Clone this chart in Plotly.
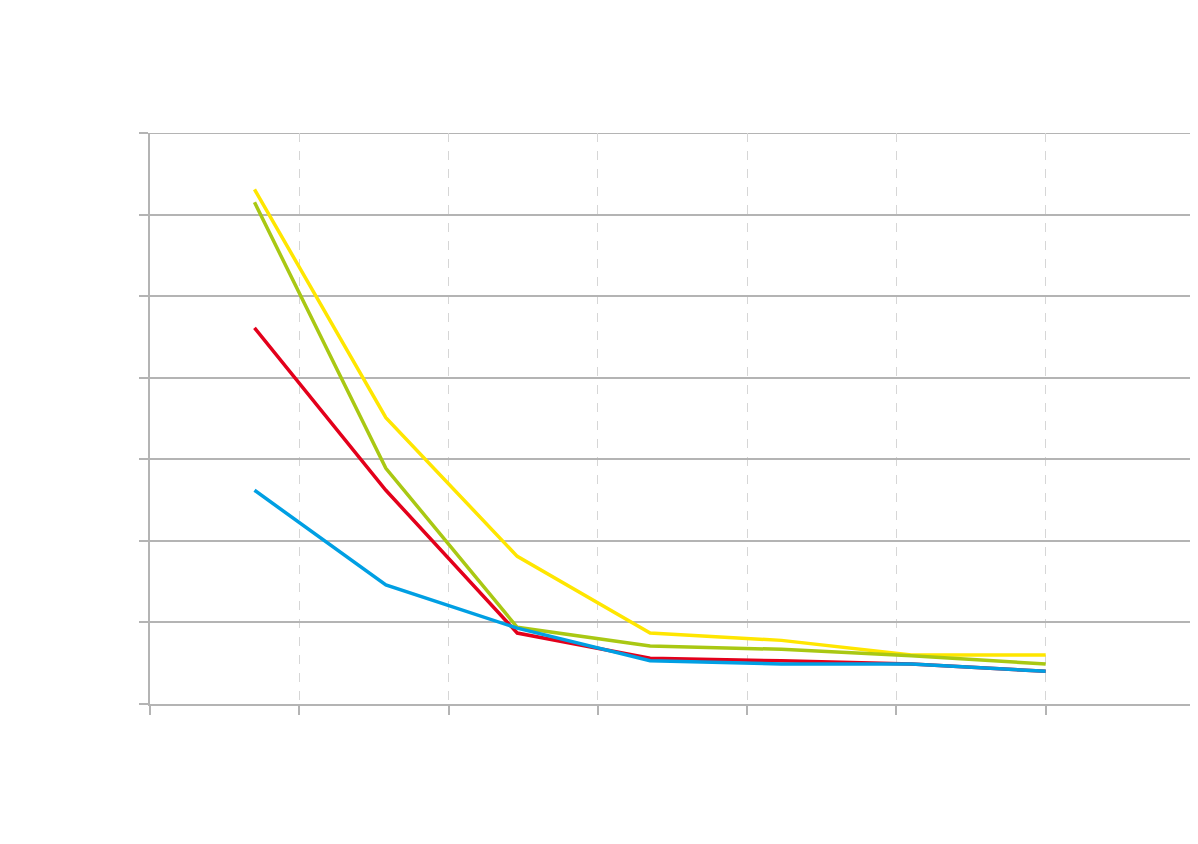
import plotly.graph_objects as go

x_vals = [0.70, 1.58, 2.46, 3.35, 4.23, 5.10, 6.00]
yellow_vals = [6.31, 3.51, 1.81, 0.87, 0.78, 0.60, 0.60]
green_vals = [6.15, 2.89, 0.94, 0.71, 0.67, 0.59, 0.49]
red_vals = [4.61, 2.62, 0.87, 0.56, 0.53, 0.49, 0.40]
blue_vals = [2.62, 1.46, 0.93, 0.53, 0.49, 0.49, 0.40]
series_names = ["Serie 1", "Serie 2", "Serie 3", "Serie 4"]
x_ticks = [0, 1, 2, 3, 4, 5, 6, 7]
y_ticks = [0, 1, 2, 3, 4, 5, 6, 7]

colors = ["#FFE600", "#A9C813", "#E3001B", "#009FE3"]
series = [yellow_vals, green_vals, red_vals, blue_vals]

fig = go.Figure()
for name, vals, c in zip(series_names, series, colors):
    fig.add_trace(go.Scatter(x=x_vals, y=vals, mode="lines", name=name,
                             line=dict(color=c, width=3.5)))

# top boundary gridline (y = 7)
fig.add_shape(type="line", xref="paper", yref="y", x0=0, x1=1, y0=y_ticks[-1], y1=y_ticks[-1],
              line=dict(color="#B4B4B4", width=2), layer="below")

fig.update_layout(
    width=1190, height=820,
    margin=dict(l=142, r=3, t=125, b=124),
    paper_bgcolor="white", plot_bgcolor="white",
    showlegend=False,
    font=dict(family="Liberation Sans", color="white", size=14),
)
fig.update_xaxes(range=[0, 7], tickvals=x_ticks, showgrid=True,
                 gridcolor="#D6D6D6", griddash="dash", gridwidth=1.2,
                 showline=True, linecolor="#B4B4B4", linewidth=2,
                 ticks="outside", ticklen=9, tickcolor="#B4B4B4", tickwidth=1.5,
                 tickfont=dict(color="white"), tickangle=-45, zeroline=False)
fig.update_yaxes(range=[0, 7], tickvals=y_ticks, showgrid=True,
                 gridcolor="#B4B4B4", gridwidth=1.5,
                 showline=True, linecolor="#B4B4B4", linewidth=2,
                 ticks="outside", ticklen=9, tickcolor="#B4B4B4", tickwidth=1.5,
                 tickfont=dict(color="white"), zeroline=False)
fig.write_html("out.html")
